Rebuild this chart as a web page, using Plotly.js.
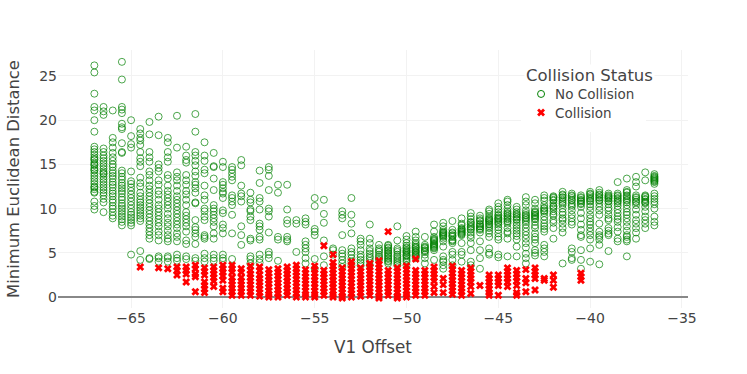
<!DOCTYPE html>
<html><head><meta charset="utf-8">
<script src="https://cdn.plot.ly/plotly-3.0.1.min.js"></script>
<style>html,body{margin:0;padding:0;background:#fff}</style></head>
<body><div id="chart" style="width:747px;height:374px"></div>
<script>
const offsets = [-67,-66.5,-66,-65.5,-65,-64.5,-64,-63.5,-63,-62.5,-62,-61.5,-61,-60.5,-60,-59.5,-59,-58.5,-58,-57.5,-57,-56.5,-56,-55.5,-55,-54.5,-54,-53.5,-53,-52.5,-52,-51.5,-51,-50.5,-50,-49.5,-49,-48.5,-48,-47.5,-47,-46.5,-46,-45.5,-45,-44.5,-44,-43.5,-43,-42.5,-42,-41.5,-41,-40.5,-40,-39.5,-39,-38.5,-38,-37.5,-37,-36.5];
const noCollision = [
[26.2,25.4,23,21.5,21.1,20,18.7,17,16.7,16.4,16.1,15.8,15.6,15.5,15.2,15,14.9,14.6,14.4,14.3,14,13.7,13.4,13.1,12.8,12.5,12.4,12.2,11.9,11.8,10.8,10.3,9.9],
[21.5,21,20.6,16.8,16.4,16,15.7,15.4,15.1,14.8,14.5,14.2,14,13.9,13.6,13.3,13,12.7,12.4,12.1,11.8,11.5,11.1,10.7,9.6],
[21.1,18,17.5,16.9,16.3,15.8,15.4,15,14.7,14.3,14,13.7,13.4,13,12.7,12.4,12,11.7,11.4,11,10.7,10.3,10,9.6,9.2,8.9],
[26.6,24.6,21.5,21.2,20.8,19.6,19.2,19,17.4,16.4,16.3,14.3,14,13.6,13.3,12.9,12.6,12.3,12,11.7,11.3,11,10.6,10.3,10,9.7,9.4,9.1,8.8,8.5,8.1],
[20,18.2,17.3,16.9,14.2,13.1,12.8,12.4,12,11.6,11.2,10.8,10.4,10,9.6,9.3,9,8.7,8.4,8.1,4.8],
[19,18.5,18,17.7,17.2,16.4,15.7,15.3,14.8,13.5,12.9,12.5,11.8,11.4,11,10.7,10.4,10.1,9.8,9.5,9.2,8.9,8.6,5.2,4.2],
[19.8,18.4,16.4,15.8,15.3,14.2,13.8,13.2,12.6,12.2,11.8,11.4,11,10.6,10.2,9.8,9.4,9,8.6,8.2,7.8,7.4,7,6.6,4.4,4.3],
[20.4,18.3,15,14.6,14.2,13.2,12.7,12,11.6,11,10.4,10,9.6,9.2,8.8,8.4,8,7.4,7,6.4,4.6,4.4,4],
[18,17.5,16.4,15.8,15.3,13.8,13.4,12.6,12,11.6,11.2,10.8,10.4,10,9.4,8.9,8.4,8,7.5,7,6.6,6.3,4.6,4.4,4],
[20.5,16.9,14.1,13.6,13.2,12.6,12,11.4,11,10.6,10.2,9.8,9.4,9,8.6,8.2,7.8,7.2,6.8,6.3,4.8,4.4,4.1],
[17,16,15.5,15.2,13.8,13.2,12.7,12,11.6,11,10.4,9.6,9.2,8.8,8.4,8,7.4,6.4,6,4.6,4.3],
[20.7,18.7,16.4,16,15.4,14.9,14.2,13.7,13,12.7,12.3,11.8,10.7,10.6,8.7,7.9,7.6,7.2,6.8,6,4.4,4.1],
[17.5,16,15.4,14.4,14,12.6,11.5,11,10,9.7,9.1,8.7,7,6.8,6.6,4.9,4.4,4],
[16.3,14.8,14.7,13.4,12.1,10.4,10,9.7,9.3,8.9,8.5,8,7.2,6.6,4.8,4.4,4.1],
[15.3,14.7,13,12.7,12.3,11.9,11.7,11.2,9.8,9.5,8.2,7.8,7.2,4.8,4.4,4.1],
[14.7,14.4,14,13.6,13.2,11.5,11.2,10.8,10.4,9.3,7.2,4.3],
[15.5,14.9,12.6,11.7,11.4,10.8,8,7,5.9],
[11.8,11,10.7,9.9,9.7,9.1,8.7,6.6,6.4,4.6,4.3,3.8],
[14.3,12.9,11.2,10.8,9.9,8.3,8,7.6,6.8,6.5,4.8,4.3,3.9],
[14.7,14.4,13.7,12.1,10,9.7,9.1,7.3,5.1,4.8,4.4],
[12.7,11.8,6.8,6.5,4.1],
[12.7,9.9,8.7,8.3,6.8,6.5,6.3],
[8.7,8.3,5.1],
[8.9,8.5,8.2,6.3,5.9,5.5,5.1,4.4,3.8],
[11.2,10.3,7.7,7.4,7,4.3,3.2],
[11,9.4,8.4,6.4,4.6,3.6],
[5.5,5.3,4.8],
[9.7,9.3,8.9,7,5.3,4.9,4.6,4.2,3.8,3.4],
[11.2,9.3,8.3,7.2,5.5,5.1,4.8,4.4,4,3.6],
[6.6,6.3,5.9,5.3,4.8,4.5,4.2,3.9,3.6],
[8.2,6.6,6.1,5.5,5.2,4.9,4.6,4.4,4.1,3.6],
[5.9,5.5,5.3,5.1,4.8,4.6,4.4,4.2],
[5.9,5.6,5.3,5,4.7,4.4,4.1,3.8,5.8,5.5,5.2,4.9,4.6,4.3,4],
[8,6.4,5.5,5.3,5.1,4.8,4.6,4.4,4.2,4,3.8,3.6],
[6.9,6.5,6.1,5.8,5.5,5.3,5.1,4.8,4.6,4.4,4.2,4,3.6,5.6,5.2,5,4.7],
[7.4,6.8,6.4,6.1,5.9,5.7,5.5,5.3,5.1,4.8,4.6,4.4,5.6,5.2,5,4.7],
[6.8,5.9,5.7,5.5,5.3,5.1,4.8,4.4,3.8,5.6,5.2],
[8.2,7.4,6.8,6.6,6.5,6.3,6.1,5.9,5.7,5.5,5.3,4.2,6.4,6,5.8,5.6],
[8.4,8,7.6,7.4,7.2,7,6.8,6.6,6.3,5.7,4.6,4.2,4,3.6,3.2,7.3,7.1,6.9],
[8.6,7.6,7.3,7,6.8,6.5,6.3,6.1,5.1,4.8,4.2,3.6,7.2,6.9,6.4],
[8.9,8.3,8.1,7.8,7.6,7.4,7.2,7,6.1,5.1,4.8,4,7.7,7.5,7.3,7.1],
[9.5,9.1,8.8,8.5,8.2,7.9,7.6,7.3,7,6.7,6.1,5.3,4,3.6,8.4,8,7.7],
[9.2,8.9,8.6,8.2,8,7.8,7.6,7.3,6.3,5.3,4.4,3.2,8.7,8.3,8,7.7],
[9.9,9.7,9.4,9.1,8.9,8.7,8.5,8.3,8,7.8,7.5,7.2,6.8,5.5,5,4.8,8.8,8.6,8.2],
[10.6,10.2,9.9,9.6,9.3,8.9,8.7,8.5,8.2,7.9,7.6,7.2,6.8,6.5,4.8,4.5,9.2,9,8.8,8.4],
[11,10.8,10.4,10,9.7,9.5,9.2,8.9,8.5,8.3,7.8,7.4,7.2,6.6,4.6,9.4,9.1,8.8,8.6],
[10.2,9.9,9.6,9.3,9,8.7,8.4,8.1,7.8,7.5,7.2,6.9,6.5,5.7,4.6,9.4,9.1,8.8],
[11.3,10.8,10.4,9.8,9.5,9.2,8.9,8.5,8.2,7.8,7.4,7,6.6,6.1,5.6,4.9,4.4,3.8,9.3,9,8.7],
[11,10.6,10,9.7,9.5,9.3,9.1,8.8,8.5,8.1,7.8,7.2,6.8,6.5,6.1,5.3,5,4.7,9.6,9.2,8.9],
[11.5,11.2,10.9,10.4,10,9.7,9.5,9.1,8.7,8.3,8,7.7,7.4,5.9,5.5,5.1,4.6,10.1,9.8],
[11.4,11.2,10.9,10.6,10.3,10,9.7,9.4,9.2,8.7,8.4,7.8,6.6,11.3,11,10.2],
[11.9,11.6,11.3,11,10.8,10.4,10,9.6,9.3,8.9,8.7,8.3,7.8,7.3,3.8,11.5,11.2,10.6],
[11.7,11.5,11.2,10.9,10.6,10.2,9.8,9.3,8.9,8.5,8.2,5.5,5.1,4.4,4.2,11.4,11,10.4],
[11.5,11.3,11,10.8,10.6,10.2,9.5,8.9,8.2,7.6,7,6.8,5.3,4.2,3.2,11.2,10.9,10.5],
[11.9,11.7,11.4,11.1,10.8,10.5,10.2,9.8,9.3,8.9,8.5,8.2,7.8,7.4,7,6.5,5.5,4,11.6,11.2,10.9],
[12.1,11.8,11.5,11.2,10.9,10.6,10.2,9.8,9.3,8.3,7.4,7,6.8,6.5,5.9,3.7,11.6,11.3,11],
[11.7,11.5,11.3,11.1,10.8,10.5,10.1,9.8,9.3,8.9,8.7,7.8,7.5,7.2,7,5.2,11.4,11.2,10.9],
[13,11.7,11.5,11.2,10.9,10.6,10.3,9.9,9.5,9.1,8.8,8.5,7.9,7.4,6.6,6.3,11.4,11.1,10.8],
[13.4,12.1,11.8,11.5,11.2,10.9,10.4,10,9.6,9.3,8.9,8.5,8,7.5,7,6.8,6.5,6.3,4.6,11.9,11.4,11,10.7],
[13.6,13,12.5,11.5,11.2,11,10.7,10.4,9.9,9.3,8.7,8.3,7.8,7.3,6.6,11.3,10.8],
[14.1,13.2,11.5,11.3,11.1,10.8,10.6,10.2,9.7,9.1,8.7,8.3,7.8,11.4,11,10.7],
[13.9,13.7,13.6,13.4,13.2,13.1,13,12.8,11.7,11.4,11.1,10.8,10.5,10,9.1,8.5,8.1,13.5,13.3]
];
const collision = [
[],[],[],[],[],
[3.4],
[],
[3.3],
[3.2],
[3.4,3,2.5],
[3.4,3,2.6,1.7],
[3.6,3.2,2.6,2.3,0.6],
[3.3,2.9,2.5,1.7,1.3,0.9,0.5],
[3.4,3,2.6,2.2,1.8,1.2],
[3.6,3.2,2.8,2.4,1.9,1,0.6],
[3.6,3.2,2.8,2.2,1.8,1.4,1,0.6,0.2],
[3.2,2.8,2.2,1.8,1.4,1,0.6,0.2],
[3.5,3,2.6,2.2,1.8,1.4,1,0.6,0.2],
[3.4,3,2.5,2.1,1.7,1.3,0.9,0.5,0.1],
[3.1,2.7,2.3,1.9,1.5,1.1,0.7,0.3,0],
[3.2,2.8,2.4,2,1.6,1.2,0.8,0.4,0],
[3.4,3,2.6,2.2,1.8,1.4,1,0.6,0.2],
[3.6,3.2,2.8,2.4,2,1.6,1.2,0.8,0.4,0],
[3.1,2.7,2.3,1.9,1.5,1.1,0.7,0.3,0],
[3.5,3.1,2.7,2.3,1.9,1.5,1.1,0.7,0.3,0],
[3,2.6,2.2,1.8,1.4,1,0.6,0.2,5.8],
[4.8,3.9,3.5,3.1,2.7,2.3,1.9,1.5,1.1,0.7,0.3,0],
[3.3,2.9,2.5,2.1,1.7,1.3,0.9,0.5,0.1,-0.1],
[4,3.6,3.2,2.8,2.4,2,1.6,1.2,0.8,0.4,0],
[3.3,2.9,2.5,2.1,1.7,1.3,0.9,0.5,0.1],
[3.8,3.4,3,2.6,2.2,1.8,1.4,1,0.6,0.2],
[4.1,3.7,3.3,2.9,2.5,2.1,1.7,1.3,0.9,0.5,0.1,-0.1],
[7.4,3,2.6,2.2,1.8,1.4,1,0.6,0.2],
[3.3,2.9,2.5,2.1,1.7,1.3,0.9,0.5,0.1,-0.1],
[3.5,3.1,2.7,2.3,1.9,1.5,1.1,0.7,0.3,0],
[4.3,3,2.6,2.2,1.8,1.4,1,0.6,0.2],
[3,2.6,2.2,1.8,1.4,1,0.6,0.2],
[3.4,3,2.6,2.2,1.8,1.2,0.5],
[2.1,1.4,0.5],
[3.5,3.1,2.7,2.3,1.9,1.5,1.1,0.7,0.3],
[3,2.6,2.2,1.8,1.4,1,0.6,0.2],
[3.3,2.9,2.5,2.1,1.7,1.2,0.4],
[1.3],
[2.5,2.1,1.7,1.3,0.9,0.5,0.2],
[2.5,2.1,1.7,1.3,0.2],
[3.3,2.9,2.5,2.1,1.7,1.2],
[3,2.6,2.2,1.8,1.3,0.5,0.2],
[3.1,2.1,1.6,0.6],
[3.3,2.9,2.5,2.1,0.8],
[2.1,1.9],
[2.5,1.9,1.1],
[],[],
[2.7,2.3,1.9],
[],[],[],[],[],[],[],[]
];
const xNo = [], yNo = [], xHit = [], yHit = [];
offsets.forEach((v, i) => {
  noCollision[i].forEach(y => { xNo.push(v); yNo.push(y); });
  collision[i].forEach(y => { xHit.push(v); yHit.push(y); });
});
const tickColor = '#444';
const data = [
  {type:'scatter', mode:'markers', name:'No Collision', x:xNo, y:yNo,
   marker:{symbol:'circle-open', size:7, color:'green', opacity:0.7, line:{width:1}}},
  {type:'scatter', mode:'markers', name:'Collision', x:xHit, y:yHit,
   marker:{symbol:'x', size:7, color:'red', line:{width:0}}}
];
const layout = {
  width:747, height:374, paper_bgcolor:'#fff', plot_bgcolor:'#fff',
  margin:{l:58, r:59, t:50, b:66},
  font:{family:'DejaVu Sans, Verdana, sans-serif', color:tickColor, size:14},
  showlegend:true,
  legend:{x:0.735, y:0.885, xanchor:'left', yanchor:'top', bgcolor:'#fff', font:{size:13.5}},
  annotations:[{text:'Collision Status', xref:'paper', yref:'paper', x:0.8444, y:0.903,
    xanchor:'center', yanchor:'middle', showarrow:false, bgcolor:'#fff', font:{size:16.5, color:tickColor}}],
  xaxis:{title:{text:'V1 Offset', font:{size:16.8}, standoff:16}, range:[-68.98,-34.67],
    tickmode:'array', tickvals:[-65,-60,-55,-50,-45,-40,-35],
    ticktext:['−65','−60','−55','−50','−45','−40','−35'],
    gridcolor:'#f2f2f2', zeroline:false, showline:false, tickfont:{size:14}, automargin:false},
  yaxis:{title:{text:'Minimum Euclidean Distance', font:{size:16.4}, standoff:15}, range:[-1.24,27.94],
    tickvals:[0,5,10,15,20,25], gridcolor:'#f2f2f2', zeroline:true, zerolinecolor:'#888', zerolinewidth:1.5,
    tickfont:{size:14}, automargin:false}
};
Plotly.newPlot('chart', data, layout, {displayModeBar:false, responsive:false}).then(() => {
  document.querySelectorAll('#chart .legend .legendtext').forEach(t => {
    t.setAttribute('x', Number(t.getAttribute('x')) - 6);
  });
  document.querySelectorAll('#chart .legend .legendpoints path').forEach(p => { p.style.opacity = 1; });
  document.querySelectorAll('#chart .legend .traces').forEach((g, i) => {
    const m = /translate\(([-\d.]+)[, ]+([-\d.]+)\)/.exec(g.getAttribute('transform'));
    if (m) g.setAttribute('transform', 'translate(' + m[1] + ',' + (Number(m[2]) - 1 - 2 * i) + ')');
  });
});
</script></body></html>
